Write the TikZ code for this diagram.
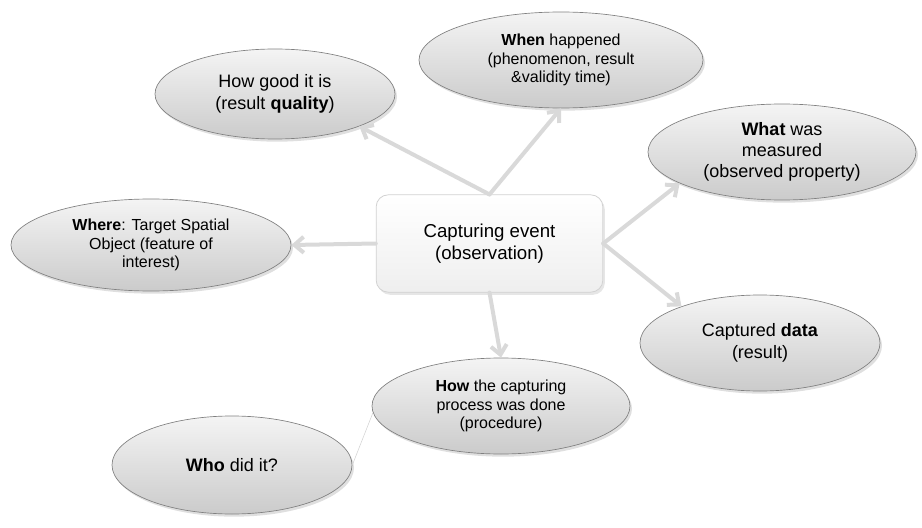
\documentclass[tikz,border=0pt]{standalone}
\usepackage{fontspec}
\setmainfont{Liberation Sans}
\usetikzlibrary{arrows.meta, shapes.geometric, shadows}
\definecolor{linkcol}{HTML}{D9D9D9}
\definecolor{bubtop}{HTML}{F4F4F4}
\definecolor{bubbot}{HTML}{CBCBCB}
\definecolor{bubline}{HTML}{808080}
\definecolor{boxline}{HTML}{D2D2D2}

\begin{document}
\begin{tikzpicture}[
    x=0.75pt, y=-0.75pt,
    bubble/.style={ellipse, draw=bubline, line width=0.5pt, inner sep=0pt,
                   align=center, top color=bubtop, bottom color=bubbot,
                   drop shadow={opacity=0.25, shadow xshift=1.5pt, shadow yshift=-2pt}},
    centrebox/.style={rectangle, rounded corners=9pt, draw=boxline, line width=0.6pt,
                      minimum width=170pt, minimum height=73pt, align=center,
                      top color=white, bottom color=gray!13,
                      font=\fontsize{14}{16.5}\selectfont,
                      drop shadow={opacity=0.2, shadow xshift=1.5pt, shadow yshift=-2pt}},
    bigtxt/.style={font=\fontsize{13.5}{16}\selectfont},
    smalltxt/.style={font=\fontsize{12}{14}\selectfont},
    link/.style={-{Straight Barb[length=7pt, width=12pt]}, draw=linkcol,
                 line width=3pt, line cap=round, line join=round},
    thinlink/.style={draw=gray!35, line width=0.4pt}
  ]

  \useasboundingbox (0,0) rectangle (922,528);

  % ---- Centre: the capturing event ----
  \node[centrebox] (event) at (489.5,243.5) {Capturing event\\(observation)};

  % ---- Surrounding questions ----
  \node[bubble, bigtxt, minimum width=180pt, minimum height=67.5pt] (good)
    at (275,94) {How good it is\\(result \textbf{quality})};
  \node[bubble, smalltxt, minimum width=213pt, minimum height=72pt] (when)
    at (561,60) {\textbf{When} happened\\(phenomenon, result\\\&validity time)};
  \node[bubble, bigtxt, minimum width=201pt, minimum height=72pt] (what)
    at (782,152) {\textbf{What} was\\measured\\(observed property)};
  \node[bubble, smalltxt, minimum width=210pt, minimum height=69pt] (where)
    at (151,245) {\textbf{Where}: Target Spatial\\Object (feature of\\interest)};
  \node[bubble, bigtxt, minimum width=180pt, minimum height=72pt] (data)
    at (760,343) {Captured \textbf{data}\\(result)};
  \node[bubble, smalltxt, minimum width=193.5pt, minimum height=72pt] (how)
    at (501,406) {\textbf{How} the capturing\\process was done\\(procedure)};
  \node[bubble, bigtxt, minimum width=180pt, minimum height=73.5pt] (who)
    at (232,465) {\textbf{Who} did it?};

  % ---- Connectors ----
  \draw[link] (event.north) -- (good.-21);
  \draw[link] (event.north) -- (when.south);
  \draw[link] (event.west) -- (where.east);
  \draw[link] (event.south) -- (how.north);
  \draw[link] (event.east) -- (what.-163);
  \draw[link] (event.east) -- (data.155);
  \draw[thinlink] (who.east) -- (how.183);

\end{tikzpicture}
\end{document}
